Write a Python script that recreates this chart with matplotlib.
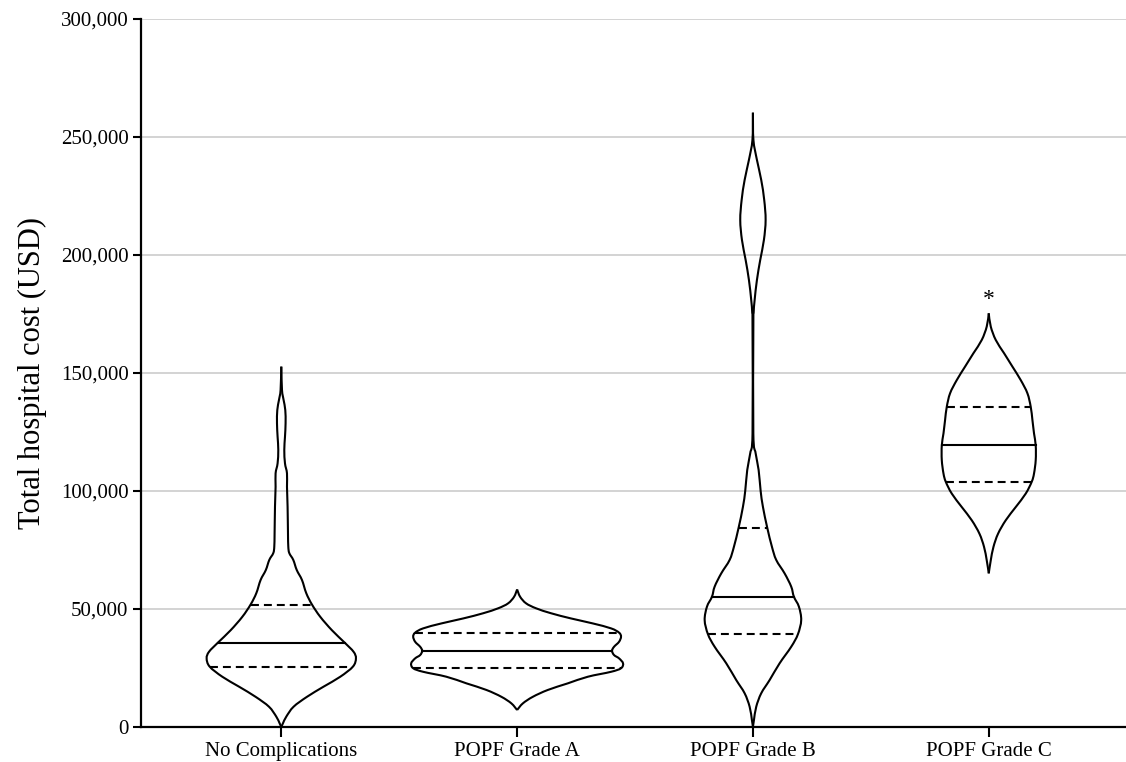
import matplotlib
matplotlib.use("Agg")
import matplotlib.pyplot as plt
import numpy as np
from matplotlib.path import Path
from matplotlib.patches import PathPatch
from matplotlib.ticker import FuncFormatter

plt.rcParams['font.family'] = ['Liberation Serif', 'DejaVu Serif']

categories = ["No Complications", "POPF Grade A", "POPF Grade B", "POPF Grade C"]

# summary lines (USD)
medians = [35700, 32300, 55200, 119300]
q1 = [25600, 24900, 39300, 103900]
q3 = [51900, 40000, 84500, 135700]

# density outlines: cost (thousand USD) and half-width (density units)
nc_cost = [0, 1.6, 4.4, 8.6, 12.8, 17.1, 21.3, 25.6, 29.1, 31.9, 35.8, 41.0, 46.7,
           51.9, 56.7, 62.3, 66.5, 70.8, 73.7, 76.5, 82.1, 93.4, 101.8, 107.5,
           111.7, 117.4, 123.0, 128.7, 134.3, 138.6, 142.8, 152.7]
nc_width = [0, 1.7, 5, 12.3, 25.7, 42.3, 59, 71.7, 74.7, 72.3, 63.3, 50.7, 39,
            30.7, 25, 20.7, 15.5, 12, 8, 7, 6.7, 6.3, 5.7, 5.7,
            3.7, 3, 3.7, 4.3, 4, 2.3, 0.7, 0]

a_cost = [7.2, 10.0, 12.8, 15.7, 18.5, 21.3, 23.4, 24.9, 27.0, 29.1, 30.5, 32.3,
          34.0, 36.1, 38.3, 40.0, 41.8, 43.9, 46.0, 48.2, 50.3, 52.4, 55.2, 58.3]
a_width = [0, 5.7, 15.7, 30.7, 50.7, 70.7, 94, 104, 106, 102, 97, 95,
           97, 102, 104, 102, 94, 75.7, 54, 34, 19, 9, 3, 0]

b_cost = [0, 2.9, 8.6, 14.3, 19.9, 27.0, 34.0, 39.3, 45.3, 51.0, 55.2, 59.5, 65.1,
          70.8, 76.4, 84.5, 93.3, 100.1, 108.9, 116.0, 124.4, 168.2, 175.4, 180.9,
          189.4, 197.9, 206.4, 214.8, 223.3, 231.8, 240.3, 248.7, 260.3]
b_width = [0, 1, 3.3, 8.3, 16.7, 26.7, 38.3, 45, 48.3, 46, 41, 38.3, 31.7,
           23.3, 19, 14.3, 10, 7.7, 5.7, 2.7, 0.4, 0.4, 0.7, 1.7,
           4, 7.3, 11, 12.7, 11.3, 8.3, 4, 0.5, 0]

c_cost = [65.1, 70.6, 76.3, 81.9, 87.6, 93.2, 98.9, 103.9, 107.4, 113.1, 119.3,
          124.4, 130.1, 135.7, 141.4, 147.0, 152.7, 158.4, 164.0, 169.7, 175.3]
c_width = [0, 2, 4.7, 9.3, 17, 27, 37, 43, 45.3, 47, 47,
           45.3, 43.7, 42, 38.7, 32, 23.7, 15.3, 7, 2, 0]

outlines = [(nc_cost, nc_width), (a_cost, a_width), (b_cost, b_width), (c_cost, c_width)]

width_scale = 1 / 236.0
lw = 1.5
dash = (0, (3.8, 2.4))


def smooth_path(xs, ys):
    # Catmull-Rom curve through the outline points, as cubic Bezier segments
    p = np.column_stack([xs, ys])
    ext = np.vstack([p[0], p, p[-1]])
    verts = [p[0]]
    codes = [Path.MOVETO]
    for k in range(len(p) - 1):
        p0, p1, p2, p3 = ext[k], ext[k + 1], ext[k + 2], ext[k + 3]
        verts += [p1 + (p2 - p0) / 6, p2 - (p3 - p1) / 6, p2]
        codes += [Path.CURVE4] * 3
    return Path(verts, codes)


fig = plt.figure(figsize=(11.26, 7.62), dpi=100)
ax = fig.add_axes([0.1252, 0.0459, 0.8748, 0.9292])

for i, (cost, width) in enumerate(outlines):
    y = np.array(cost) * 1000
    hw = np.array(width) * width_scale
    for side in (-1, 1):
        ax.add_patch(PathPatch(smooth_path(i + side * hw, y), fill=False,
                               edgecolor='black', linewidth=lw, zorder=3))

    # median solid, quartiles dashed, each spanning the outline
    for val, style in [(medians[i], '-'), (q1[i], dash), (q3[i], dash)]:
        w = np.interp(val, y, hw)
        ax.plot([i - w, i + w], [val, val], color='black', linewidth=lw,
                linestyle=style, zorder=3)

ax.text(3, 181000, '*', ha='center', va='center', fontsize=17)

ax.set_xlim(-0.595, 3.582)
ax.set_ylim(0, 300000)
ax.set_yticks(np.arange(0, 300001, 50000))
ax.yaxis.set_major_formatter(FuncFormatter(lambda v, p: f'{v:,.0f}'))
ax.set_xticks(range(len(categories)))
ax.set_xticklabels(categories)

ax.grid(axis='y', color='#cccccc', linewidth=1.2)
ax.set_axisbelow(True)
for side in ['top', 'right']:
    ax.spines[side].set_visible(False)
for side in ['left', 'bottom']:
    ax.spines[side].set_linewidth(1.6)
    ax.spines[side].set_zorder(4)

ax.tick_params(axis='y', length=6, width=1.5, labelsize=15, pad=3)
ax.tick_params(axis='x', length=7, width=1.5, labelsize=15, pad=4)
ax.set_ylabel('Total hospital cost (USD)', fontsize=22, labelpad=10)

fig.savefig('out.png', dpi=100)
